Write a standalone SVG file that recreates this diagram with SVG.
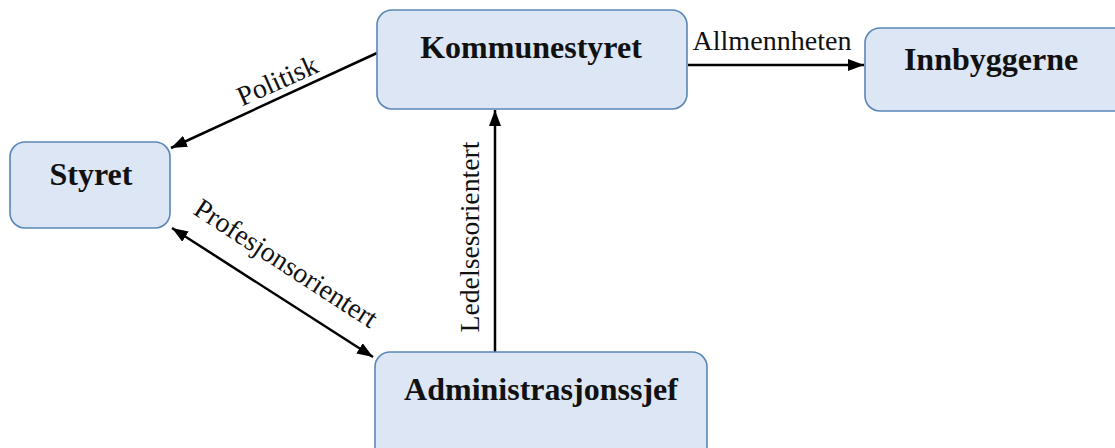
<svg xmlns="http://www.w3.org/2000/svg" width="1115" height="448" viewBox="0 0 1115 448">
<style>
.box{fill:#dce6f4;stroke:#5b86b8;stroke-width:1.6}
.nt{font-family:'Liberation Serif','Times New Roman','DejaVu Serif',serif;font-weight:bold;font-size:32px;fill:#111;text-anchor:middle}
.lt{font-family:'Liberation Serif','Times New Roman','DejaVu Serif',serif;font-size:28px;fill:#111;text-anchor:middle}
.c{stroke:#000;stroke-width:2.5;fill:none}
</style>
<defs>
<marker id="ah" viewBox="0 0 16 12" refX="16" refY="6" markerWidth="16" markerHeight="12" markerUnits="userSpaceOnUse" orient="auto-start-reverse">
<path d="M0,0 L16,6 L0,12 z" fill="#000"/>
</marker>
</defs>
<rect width="1115" height="448" fill="#fff"/>
<g id="connectors">
<line class="c" x1="377" y1="53" x2="171" y2="148" marker-end="url(#ah)"/>
<line class="c" x1="172" y1="228" x2="373" y2="357" marker-start="url(#ah)" marker-end="url(#ah)"/>
<line class="c" x1="495" y1="352" x2="495" y2="110" marker-end="url(#ah)"/>
<line class="c" x1="688" y1="65" x2="864" y2="65" marker-end="url(#ah)"/>
<text class="lt" transform="translate(281,89) rotate(-24)">Politisk</text>
<text class="lt" transform="translate(281,271) rotate(33)" textLength="212" lengthAdjust="spacingAndGlyphs">Profesjonsorientert</text>
<text class="lt" transform="translate(479,237) rotate(-90)" textLength="191" lengthAdjust="spacingAndGlyphs">Ledelsesorientert</text>
<text class="lt" x="772" y="50" textLength="159" lengthAdjust="spacingAndGlyphs">Allmennheten</text>
</g>
<g id="kommunestyret">
<rect class="box" x="377" y="10" width="310" height="99" rx="15"/>
<text class="nt" x="531" y="58">Kommunestyret</text>
</g>
<g id="innbyggerne">
<rect class="box" x="865" y="28" width="270" height="83" rx="15"/>
<text class="nt" x="991" y="70">Innbyggerne</text>
</g>
<g id="styret">
<rect class="box" x="10" y="142" width="160" height="86" rx="15"/>
<text class="nt" x="91" y="185">Styret</text>
</g>
<g id="administrasjonssjef">
<rect class="box" x="375" y="352" width="332" height="110" rx="15"/>
<text class="nt" x="541" y="400">Administrasjonssjef</text>
</g>
</svg>
